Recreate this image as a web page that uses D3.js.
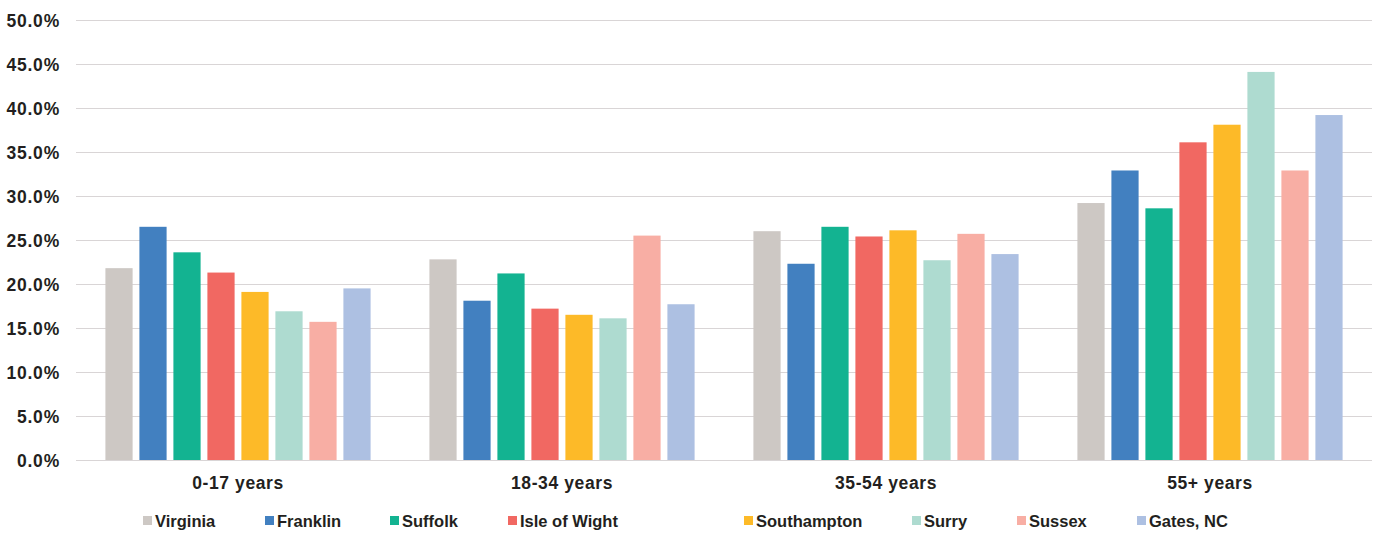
<!DOCTYPE html>
<html>
<head>
<meta charset="utf-8">
<script src="https://cdn.jsdelivr.net/npm/d3@7"></script>
<style>
  html, body { margin: 0; padding: 0; background: #ffffff; }
  svg text { font-family: "Liberation Sans", Arial, sans-serif; font-weight: bold; fill: #231F20; }
</style>
</head>
<body>
<svg id="chart" width="1377" height="534"></svg>
<script>
// Age groups along the x axis
const ageGroups = ["0-17 years", "18-34 years", "35-54 years", "55+ years"];

// Localities (one bar per locality within each age group)
const localities = ["Virginia", "Franklin", "Suffolk", "Isle of Wight", "Southampton", "Surry", "Sussex", "Gates, NC"];

// Share of population (%) for each locality, by age group
const virginia    = [21.8, 22.8, 26.0, 29.2];
const franklin    = [26.5, 18.1, 22.3, 32.9];
const suffolk     = [23.6, 21.2, 26.5, 28.6];
const isleOfWight = [21.3, 17.2, 25.4, 36.1];
const southampton = [19.1, 16.5, 26.1, 38.1];
const surry       = [16.9, 16.1, 22.7, 44.1];
const sussex      = [15.7, 25.5, 25.7, 32.9];
const gatesNC     = [19.5, 17.7, 23.4, 39.2];

// Y axis tick values (%)
const yTicks = [0, 5, 10, 15, 20, 25, 30, 35, 40, 45, 50];

const seriesValues = [virginia, franklin, suffolk, isleOfWight, southampton, surry, sussex, gatesNC];

const colors = ["#CDC8C4", "#4280C0", "#13B391", "#F16862", "#FDBA28", "#AEDBD0", "#F8AEA4", "#ADC0E2"];

// Legend entry left edges
const legendX = [143, 265, 390, 508, 744, 912, 1017, 1137];

const svg = d3.select("#chart");
const plotLeft = 76, plotRight = 1372, plotTop = 20, plotBottom = 460;

const x0 = d3.scaleBand().domain(ageGroups).range([plotLeft, plotRight]).padding(0);
const x1 = d3.scaleBand().domain(localities).range([0, x0.bandwidth()])
  .paddingInner(0.2).paddingOuter(0.865);
const y = d3.scaleLinear().domain([0, 50]).range([plotBottom, plotTop]);

// Horizontal gridlines
svg.append("g")
  .selectAll("line")
  .data(yTicks)
  .join("line")
  .attr("x1", plotLeft).attr("x2", plotRight)
  .attr("y1", d => y(d) + 0.5).attr("y2", d => y(d) + 0.5)
  .attr("stroke", "#D9D5D6").attr("stroke-width", 1.2);

// Y axis labels
const yAxis = d3.axisLeft(y).tickValues(yTicks).tickSize(0).tickPadding(0)
  .tickFormat(d => d.toFixed(1) + "%");
const yg = svg.append("g").attr("transform", `translate(60,0)`).call(yAxis);
yg.select(".domain").remove();
yg.selectAll("text").attr("font-size", 17.5).attr("dy", "0.35em")
  .style("letter-spacing", "0.8px")
  .style("font-family", '"Liberation Sans", Arial, sans-serif').style("font-weight", "bold").attr("fill", "#231F20");

// Bars
const rows = [];
ageGroups.forEach((g, gi) => {
  localities.forEach((loc, li) => {
    rows.push({ group: g, loc: loc, value: seriesValues[li][gi], color: colors[li] });
  });
});

svg.append("g")
  .selectAll("rect")
  .data(rows)
  .join("rect")
  .attr("x", d => x0(d.group) + x1(d.loc))
  .attr("y", d => y(d.value))
  .attr("width", x1.bandwidth())
  .attr("height", d => y(0) - y(d.value))
  .attr("fill", d => d.color);

// Baseline
svg.append("line")
  .attr("x1", plotLeft).attr("x2", plotRight)
  .attr("y1", y(0) + 0.5).attr("y2", y(0) + 0.5)
  .attr("stroke", "#D9D5D6").attr("stroke-width", 1.2);

// X axis category labels
const xAxis = d3.axisBottom(x0).tickSize(0).tickPadding(0);
const xg = svg.append("g").attr("transform", `translate(0,${plotBottom})`).call(xAxis);
xg.select(".domain").remove();
xg.selectAll("text").attr("font-size", 17.5).attr("y", 29).attr("dy", 0)
  .style("letter-spacing", "0.6px")
  .style("font-family", '"Liberation Sans", Arial, sans-serif').style("font-weight", "bold").attr("fill", "#231F20");

// Legend
const legend = svg.append("g").selectAll("g")
  .data(localities)
  .join("g")
  .attr("transform", (d, i) => `translate(${legendX[i]},0)`);
legend.append("rect")
  .attr("x", 0).attr("y", 516).attr("width", 9).attr("height", 9)
  .attr("fill", (d, i) => colors[i]);
legend.append("text")
  .attr("x", 12).attr("y", 527)
  .attr("font-size", 16.5)
  .text(d => d);
</script>
</body>
</html>
